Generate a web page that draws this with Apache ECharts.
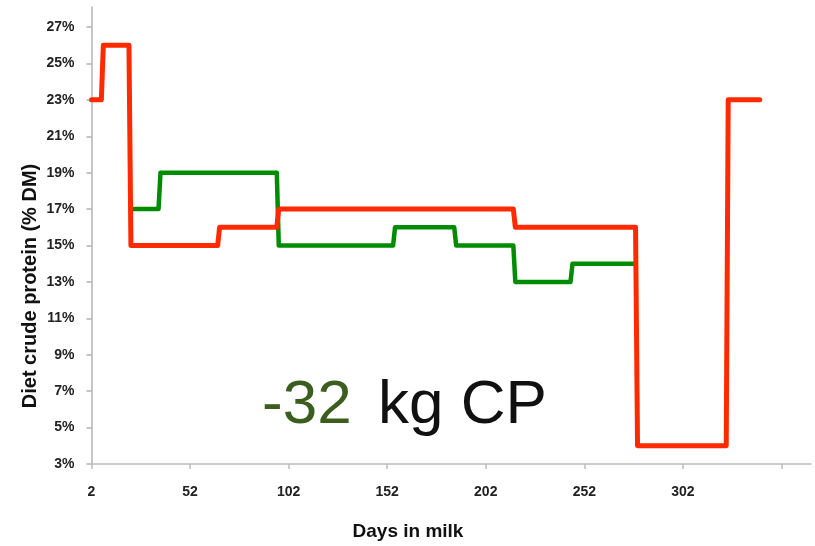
<!DOCTYPE html>
<html><head><meta charset="utf-8">
<script src="https://cdn.jsdelivr.net/npm/echarts@6/dist/echarts.min.js"></script>
<style>html,body{margin:0;padding:0;background:#fff}#c{width:815px;height:546px}</style>
</head><body><div id="c"></div>
<script>
// Y tick labels (% DM)
const yTicks = [3, 5, 7, 9, 11, 13, 15, 17, 19, 21, 23, 25, 27];
// X tick labels (days in milk) and tick marks
const xLabelTicks = [2, 52, 102, 152, 202, 252, 302];
const xTickMarks = [2, 52, 102, 152, 202, 252, 302, 352];

// Red diet (change points)
const redDays   = [2, 7, 8, 21, 22, 66, 67, 96, 97, 216, 217, 278, 279, 324, 325, 341];
const redValues = [23, 23, 26, 26, 15, 15, 16, 16, 17, 17, 16, 16, 4, 4, 23, 23];

// Green diet (change points)
const greenDays   = [22, 36, 37, 96, 97, 155, 156, 186, 187, 216, 217, 245, 246, 277];
const greenValues = [17, 17, 19, 19, 15, 15, 16, 16, 15, 15, 13, 13, 14, 14];

const annotationNumber = '-32';
const annotationUnit = 'kg CP';
const yAxisTitle = 'Diet crude protein (% DM)';
const xAxisTitle = 'Days in milk';

const zip = (a, b) => a.map((d, i) => [d, b[i]]);

const chart = echarts.init(document.getElementById('c'), null, {renderer: 'canvas'});
const labelFont = {fontFamily: 'Liberation Sans', fontWeight: 'bold', fontSize: 14, color: '#222'};
chart.setOption({
  animation: false,
  backgroundColor: '#fff',
  grid: {left: 91.5, right: 4, top: 7, bottom: 82, containLabel: false},
  xAxis: {
    type: 'value', min: 2, max: 367,
    axisLine: {show: true, lineStyle: {color: '#bdbdbd', width: 1.5}},
    axisTick: {show: true, length: 5, customValues: xTickMarks, lineStyle: {color: '#bdbdbd', width: 1.5}},
    axisLabel: Object.assign({customValues: xLabelTicks, margin: 21}, labelFont),
    splitLine: {show: false}
  },
  yAxis: {
    type: 'value', min: 3, max: 28.1,
    axisLine: {show: true, lineStyle: {color: '#b3b3b3', width: 1.5}},
    axisTick: {show: true, length: 5, customValues: yTicks, lineStyle: {color: '#b3b3b3', width: 1.5}},
    axisLabel: Object.assign({customValues: yTicks, margin: 17, padding: [5, 0, 0, 0], formatter: v => v + '%'}, labelFont),
    splitLine: {show: false}
  },
  series: [
    {type: 'line', data: zip(greenDays, greenValues), showSymbol: false, symbol: 'none',
     lineStyle: {color: '#008c00', width: 4.5, cap: 'round', join: 'round'}},
    {type: 'line', data: zip(redDays, redValues), showSymbol: false, symbol: 'none',
     lineStyle: {color: '#ff2a00', width: 5, cap: 'round', join: 'round'}}
  ],
  graphic: [
    {type: 'text', x: 30, y: 286, rotation: Math.PI / 2,
     style: {text: yAxisTitle, fontFamily: 'Liberation Sans', fontWeight: 'bold', fontSize: 20,
             fill: '#111', align: 'center', verticalAlign: 'middle'}},
    {type: 'text', x: 408, y: 532,
     style: {text: xAxisTitle, fontFamily: 'Liberation Sans', fontWeight: 'bold', fontSize: 19,
             fill: '#111', align: 'center', verticalAlign: 'middle'}},
    {type: 'text', x: 262, y: 406,
     style: {text: annotationNumber, fontFamily: 'Liberation Sans', fontSize: 62,
             fill: '#3b5e1e', align: 'left', verticalAlign: 'middle'}},
    {type: 'text', x: 378, y: 406,
     style: {text: annotationUnit, fontFamily: 'Liberation Sans', fontSize: 62,
             fill: '#111', align: 'left', verticalAlign: 'middle'}}
  ]
});
</script></body></html>
